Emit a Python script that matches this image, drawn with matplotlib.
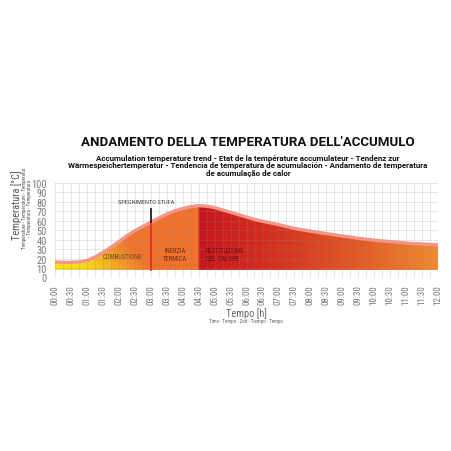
import numpy as np
import matplotlib
matplotlib.use("Agg")
import matplotlib.pyplot as plt
from matplotlib.colors import to_rgb

# ---------------- data ----------------
hours = [0, 0.25, 0.5, 0.75, 1, 1.25, 1.5, 1.75, 2, 2.25, 2.5, 2.75, 3,
         3.25, 3.5, 3.75, 4, 4.25, 4.5, 4.75, 5, 5.25, 5.5, 5.75, 6, 6.25,
         6.5, 7, 7.5, 8, 8.5, 9, 9.5, 10, 10.5, 11, 11.5, 12]
temperature = [16.5, 16, 16, 16.5, 18, 21.5, 26.5, 32, 38, 44, 49.5, 54,
               58.5, 63, 67, 70.5, 73, 75, 76, 75.5, 74, 71.5, 69, 66.5,
               64, 61.5, 59.5, 56, 52, 49, 46.5, 44, 41.5, 39.5, 38, 36.5,
               35.5, 34.5]
base_temp = 8
stove_off_hour = 3.0
restitution_hour = 4.5
stove_marker_top = 73

xtick_hours = [i * 0.5 for i in range(25)]
xtick_labels = ["%02d:%02d" % (int(h), int(round((h % 1) * 60))) for h in xtick_hours]
ytick_values = list(range(0, 101, 10))

title = "ANDAMENTO DELLA TEMPERATURA DELL'ACCUMULO"
subtitle = ("Accumulation temperature trend - Etat de la température accumulateur - Tendenz zur\n"
            "Wärmespeichertemperatur - Tendencia de temperatura de acumulación - Andamento de temperatura\n"
            "de acumulação de calor")
ylabel_main = "Temperatura [°C]"
ylabel_sub = "Temperature - Température - Temperatur\n- Temperatura - Temperatura"
xlabel_main = "Tempo [h]"
xlabel_sub = "Time - Tempo - Zeit - Tiempo - Tempo"
phase_labels = ["COMBUSTIONE", "INERZIA\nTERMICA", "RESTITUZIONE\nDEL CALORE"]
stove_label = "SPEGNIMENTO STUFA"

COND = ["Roboto Condensed", "Liberation Sans Narrow", "Roboto", "DejaVu Sans"]
BOLD = ["Roboto", "DejaVu Sans"]

# ---------------- figure ----------------
fig = plt.figure(figsize=(4.52, 4.52), dpi=100)
fig.patch.set_facecolor("white")
ax = fig.add_axes([55 / 452, 1 - 278.5 / 452, 383 / 452, 94.5 / 452])
ax.set_xlim(0, 12)
ax.set_ylim(0, 100)
for s in ax.spines.values():
    s.set_visible(False)

# gradient image
def interp_colors(pos, stops):
    ps = [p for p, _ in stops]
    cs = np.array([to_rgb(c) for _, c in stops])
    return np.stack([np.interp(pos, ps, cs[:, k]) for k in range(3)], axis=-1)

nx, ny = 600, 200
xs = np.linspace(0, 12, nx)
ys = np.linspace(0, 100, ny)
X, Y = np.meshgrid(xs, ys)
comb_stops = [(0, "#f8e21b"), (1.0, "#f9d91c"), (1.8, "#f6b424"),
              (2.5, "#f38e29"), (3.0, "#f1742b"), (4.0, "#f1742b")]
rest_stops = [(4.5, "#c8161e"), (7.0, "#d5321f"), (9.5, "#e35a25"), (12.0, "#f08a2e")]
s_comb = X + 0.025 * (Y - base_temp)
img = interp_colors(s_comb, comb_stops)
inertia = (X >= stove_off_hour) & (X < restitution_hour)
img[inertia] = to_rgb("#f1722c")
rest = X >= restitution_hour
img[rest] = interp_colors(X[rest], rest_stops)

poly = ax.fill_between(hours, base_temp, temperature, facecolor="none",
                       edgecolor="none")
im = ax.imshow(img, extent=[0, 12, 0, 100], origin="lower", aspect="auto",
               zorder=1, interpolation="bilinear")
im.set_clip_path(poly.get_paths()[0], transform=ax.transData)

# top salmon band
ax.plot(hours, temperature, color="#f3958a", lw=2.4, zorder=3,
        solid_capstyle="butt", solid_joinstyle="round")

# grid
ax.set_xticks(xtick_hours)
ax.set_xticks([i * 0.25 for i in range(49)], minor=True)
ax.set_yticks(ytick_values)
ax.grid(True, which="both", color="#8a8a8a", alpha=0.24, lw=0.6, zorder=4)
ax.set_axisbelow(False)
ax.tick_params(which="both", length=0)
ax.set_xticklabels(xtick_labels, rotation=90, fontsize=6.5, color="#7a7a7a",
                   family=COND)
ax.set_yticklabels([str(v) for v in ytick_values], fontsize=7.5,
                   color="#7a7a7a", family=COND)
ax.tick_params(axis="x", pad=5)
ax.tick_params(axis="y", pad=6)

# stove off marker
t_off = np.interp(stove_off_hour, hours, temperature)
ax.plot([stove_off_hour, stove_off_hour], [base_temp, t_off], color="#d42a2c",
        lw=1.2, zorder=5)
ax.plot([stove_off_hour, stove_off_hour], [t_off, stove_marker_top],
        color="#222222", lw=1.3, zorder=5)
ax.text(stove_off_hour - 0.15, 80, stove_label, ha="center", va="center",
        fontsize=4.6, color="#444444", family=COND, zorder=6)

# phase labels
ax.text(2.12, 22, phase_labels[0], ha="center", va="center", fontsize=4.8,
        color="#6b4a1a", family=COND, zorder=6)
ax.text(3.76, 24.5, phase_labels[1], ha="center", va="center", fontsize=4.8,
        color="#7a2a12", family=COND, zorder=6, linespacing=1.3)
ax.text(4.72, 24.5, phase_labels[2], ha="left", va="center", fontsize=4.8,
        color="#6a1010", family=COND, zorder=6, linespacing=1.3)

# titles
fig.text(248 / 452, 1 - 143 / 452, title, ha="center", va="center",
         fontsize=9.6, fontweight="bold", color="#111111", family=BOLD)
fig.text(248 / 452, 1 - 166 / 452, subtitle, ha="center", va="center",
         fontsize=5.8, fontweight=600, color="#111111", family=BOLD,
         linespacing=1.15)

# axis labels
fig.text(17 / 452, 1 - 205 / 452, ylabel_main, rotation=90, ha="center",
         va="center", fontsize=7.5, color="#555555", family=COND)
fig.text(27 / 452, 1 - 208 / 452, ylabel_sub, rotation=90, ha="center",
         va="center", fontsize=3.6, color="#555555", family=COND,
         linespacing=1.2)
fig.text(246 / 452, 1 - 314 / 452, xlabel_main, ha="center", va="center",
         fontsize=7.5, color="#666666", family=COND)
fig.text(246 / 452, 1 - 322 / 452, xlabel_sub, ha="center", va="center",
         fontsize=3.6, color="#666666", family=COND)

fig.savefig("out.png", dpi=100, facecolor="white")
